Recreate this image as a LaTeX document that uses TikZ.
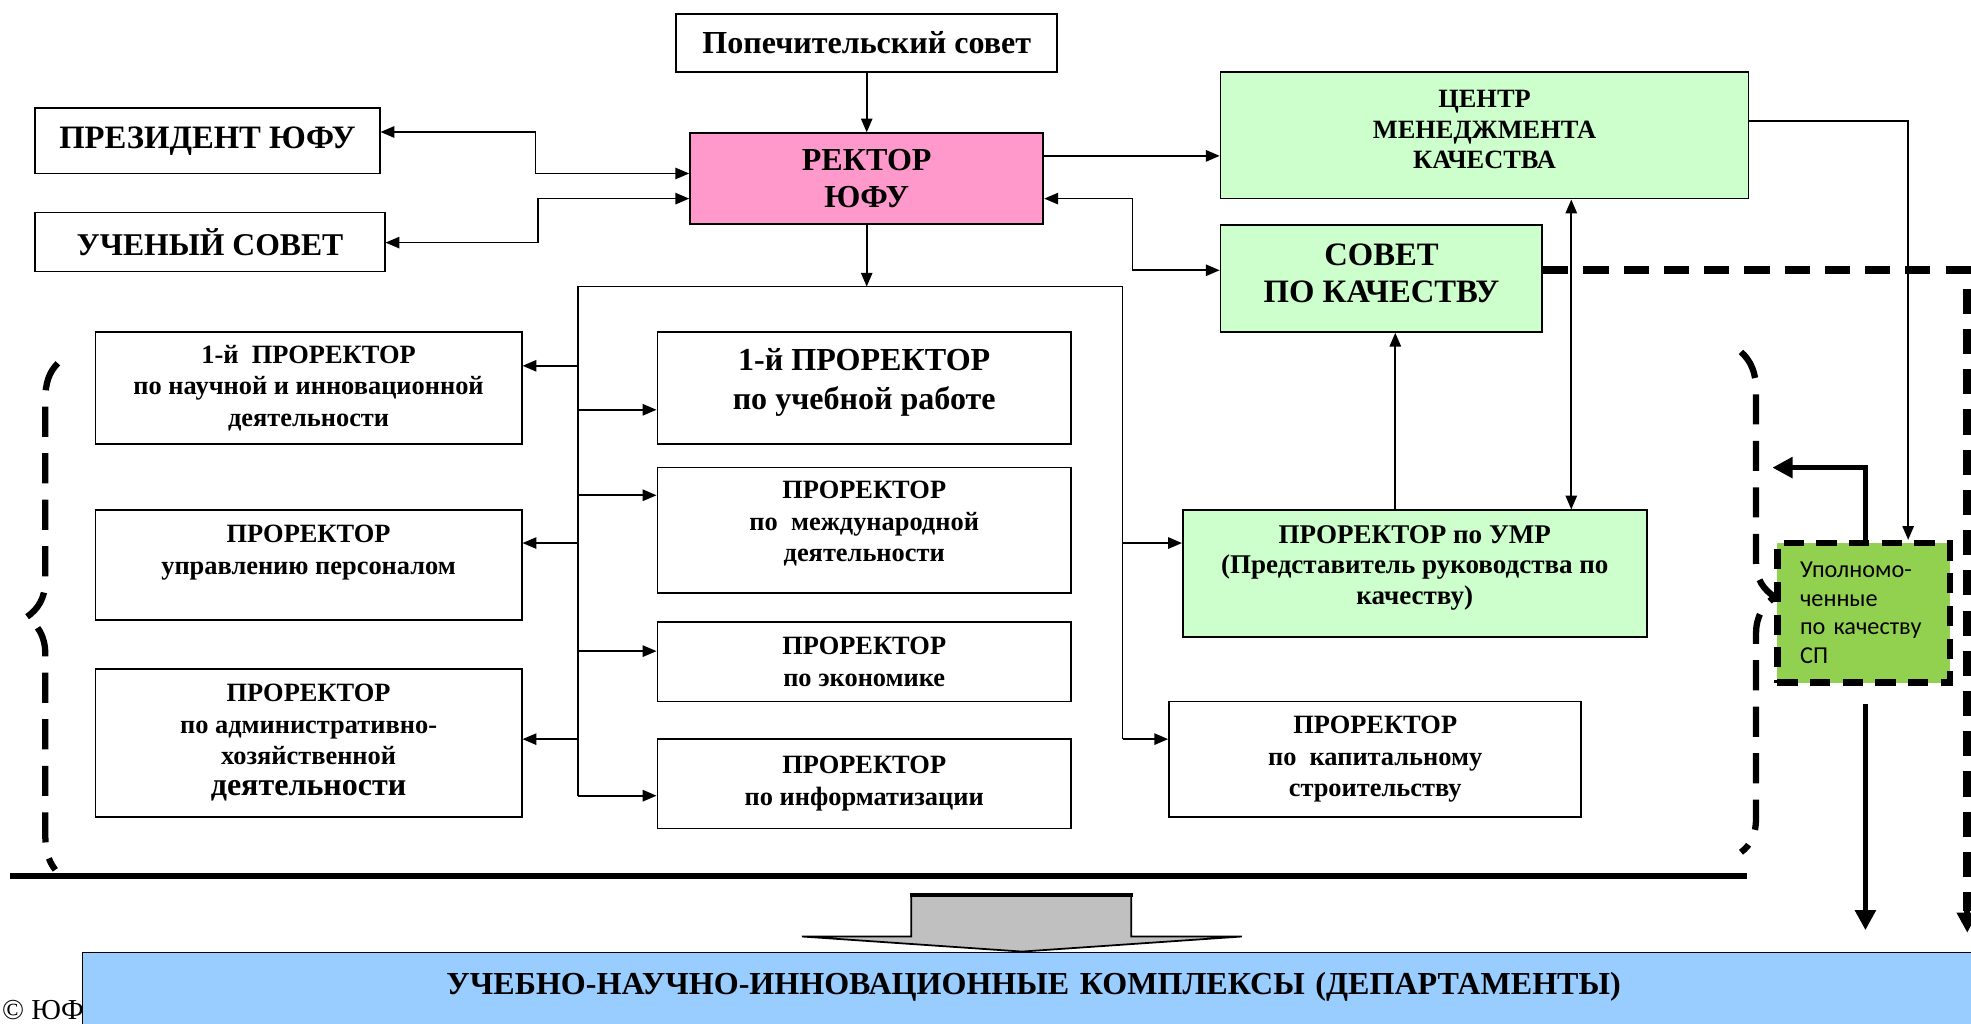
\documentclass[tikz,border=0pt]{standalone}
\usepackage{fontspec}
\setmainfont{Liberation Serif}
\newfontfamily\tbf{Liberation Serif Bold}
\newfontfamily\clb{Carlito}
\usetikzlibrary{arrows.meta}
\definecolor{pinkr}{HTML}{FF99CC}
\definecolor{lgreen}{HTML}{CCFFCC}
\definecolor{dgreen}{HTML}{92D050}
\definecolor{lblue}{HTML}{99CCFF}
\definecolor{lgray}{HTML}{C0C0C0}
\newcommand\fsz[2]{\fontsize{#1}{#2}\selectfont}
\tikzset{
  box/.style={draw, line width=1.4pt, rectangle, inner sep=0pt, align=center},
  arr/.style={line width=1.4pt, -{Triangle[length=11pt,width=9pt]}},
  arrb/.style={line width=1.4pt, {Triangle[length=11pt,width=9pt]}-{Triangle[length=11pt,width=9pt]}},
  bus/.style={line width=1.4pt},
  thickarr/.style={line width=4.5pt, -{Triangle[length=16pt,width=16pt]}},
  tdash/.style={line width=6pt, dash pattern=on 20pt off 12pt},
  brace/.style={line width=5pt, dash pattern=on 24pt off 13pt},
}
\begin{document}
\begin{tikzpicture}[x=1pt,y=-1pt]
\useasboundingbox (0,0) rectangle (1568,814);

% boxes
\node[box, minimum width=303pt, minimum height=46pt, font={\tbf\fsz{25.5}{28}}] (pop) at (689.5,34) {Попечительский совет};
\node[box, minimum width=274pt, minimum height=52pt, font={\tbf\fsz{26}{30}}] (pres) at (165,112) {ПРЕЗИДЕНТ ЮФУ};
\node[box, minimum width=278pt, minimum height=47pt, font={\tbf\fsz{25.2}{30}}] (uch) at (167,192.5) {УЧЕНЫЙ СОВЕТ};
\node[box, fill=pinkr, minimum width=281pt, minimum height=72pt, font={\tbf\fsz{25.5}{30}}, text depth=0pt] (rect) at (689.5,142) {РЕКТОР\\ЮФУ};
\node[box, fill=lgreen, minimum width=420pt, minimum height=101pt, font={\tbf\fsz{21}{24.5}}, text depth=9pt] (cmk) at (1181,107.5) {ЦЕНТР\\МЕНЕДЖМЕНТА\\КАЧЕСТВА};
\node[box, fill=lgreen, minimum width=256pt, minimum height=85pt, font={\tbf\fsz{26}{29}}, text depth=8pt] (spk) at (1099,221.5) {СОВЕТ\\ПО КАЧЕСТВУ};

\node[box, minimum width=339pt, minimum height=89pt, font={\tbf\fsz{21}{25}}] (l1) at (245.5,308.5) {1-й \ ПРОРЕКТОР\\по научной и инновационной\\деятельности};
\node[box, minimum width=339pt, minimum height=87pt, font={\tbf\fsz{21}{25}}, text depth=24pt] (l2) at (245.5,449.5) {ПРОРЕКТОР\\управлению персоналом};
\node[box, minimum width=339pt, minimum height=118pt, font={\tbf\fsz{21}{25}}] (l3) at (245.5,591) {ПРОРЕКТОР\\по административно-\\хозяйственной\\{\fsz{25.5}{27}деятельности}};

\node[box, minimum width=329pt, minimum height=89pt, font={\tbf\fsz{25.5}{31}}, text depth=14pt] (m1) at (687.5,308.5) {1-й ПРОРЕКТОР\\по учебной работе};
\node[box, minimum width=329pt, minimum height=100pt, font={\tbf\fsz{21}{25}}, text depth=14pt] (m2) at (687.5,422) {ПРОРЕКТОР\\по \ международной\\деятельности};
\node[box, minimum width=329pt, minimum height=63pt, font={\tbf\fsz{21}{25}}] (m3) at (687.5,526.5) {ПРОРЕКТОР\\по экономике};
\node[box, minimum width=329pt, minimum height=71pt, font={\tbf\fsz{21}{25}}] (m4) at (687.5,623.5) {ПРОРЕКТОР\\по информатизации};

\node[box, fill=lgreen, minimum width=369pt, minimum height=101pt, font={\tbf\fsz{21.5}{24.5}}, text depth=14pt] (umr) at (1125.5,456.5) {ПРОРЕКТОР по УМР\\(Представитель руководства по\\качеству)};
\node[box, minimum width=328pt, minimum height=92pt, font={\tbf\fsz{21}{25}}] (kap) at (1094,604) {ПРОРЕКТОР\\по \ капитальному\\строительству};

\node[draw, fill=dgreen, line width=5pt, dash pattern=on 16pt off 10pt, minimum width=137pt, minimum height=111pt, inner xsep=18pt, align=left, text width=101pt, font={\clb\fsz{19.3}{23}}] (upl) at (1482.5,487.5) {Уполномо-\\ченные\\по качеству\\СП};

% connectors
\draw[arr] (pop) -- (rect);
\draw[arrb] (pres.east |- 0,105) -- (426,105) -- (426,138) -- (rect.west |- 0,138);
\draw[arrb] (uch.east |- 0,193) -- (428,193) -- (428,158) -- (rect.west |- 0,158);
\draw[arr] (rect.east |- 0,124) -- (cmk.west |- 0,124);
\draw[arrb] (rect.east |- 0,158) -- (901,158) -- (901,215) -- (spk.west |- 0,215);

\coordinate (bustop) at (689.5,228);
\coordinate (busl) at (460,228);
\coordinate (busr) at (893,228);
\draw[arr] (rect.south) -- (bustop);
\draw[bus] (460,633) -- (busl) -- (busr) -- (893,588);
\draw[arr] (460,291) -- (l1.east |- 0,291);
\draw[arr] (460,432) -- (l2.east |- 0,432);
\draw[arr] (460,588) -- (l3.east |- 0,588);
\draw[arr] (460,326) -- (m1.west |- 0,326);
\draw[arr] (460,394) -- (m2.west |- 0,394);
\draw[arr] (460,518) -- (m3.west |- 0,518);
\draw[arr] (460,633) -- (m4.west |- 0,633);
\draw[arr] (893,432) -- (umr.west |- 0,432);
\draw[arr] (893,588) -- (kap.west |- 0,588);

\draw[arr] (umr.north -| 1110,0) -- (spk.south -| 1110,0);
\draw[arrb] (cmk.south -| 1250,0) -- (umr.north -| 1250,0);
\draw[arr] (cmk.east |- 0,96) -- (1518,96) -- (upl.north -| 1518,0);

% thick dashed line
\coordinate (dend) at (1565,742);
\draw[tdash] (spk.east |- 0,215) -- (1565,215) -- (1565,725);
\draw[line width=5pt, -{Triangle[length=16pt,width=16pt]}] (1565,724) -- (dend);

% thick arrows of upl
\coordinate (uplout) at (1410,372);
\coordinate (upldown) at (1484,740);
\draw[thickarr] (upl.north -| 1484,0) -- (1484,372) -- (uplout);
\draw[thickarr] (1484,560) -- (upldown);

% braces
\draw[brace] (46,289) .. controls (39,296) and (36,305) .. (36,318) -- (36,462) .. controls (36,476) and (30,485) .. (21,491) .. controls (30,497) and (36,506) .. (36,520) -- (36,662) .. controls (36,676) and (38,684) .. (44,692);
\draw[brace] (1385,280) .. controls (1393,287) and (1397,297) .. (1397,310) -- (1397,447) .. controls (1397,461) and (1403,469) .. (1412,475) .. controls (1403,481) and (1397,490) .. (1397,504) -- (1397,650) .. controls (1397,664) and (1393,672) .. (1385,678);

% thick base line
\draw[line width=5pt] (8,697) -- (1390,697);

% copyright text (partly hidden)
\node[anchor=base west, inner sep=0pt, font={\fsz{23}{26}}] (copy) at (1.5,811) {© ЮФУ};

% bottom blue box
\node[draw, fill=lblue, line width=1.4pt, anchor=north west, minimum width=1513pt, minimum height=80pt, inner sep=0pt, text depth=31pt, font={\tbf\fsz{25.5}{28}}, text width=1513pt, align=center] (unk) at (65,757) {УЧЕБНО-НАУЧНО-ИННОВАЦИОННЫЕ КОМПЛЕКСЫ (ДЕПАРТАМЕНТЫ)};

% gray block arrow
\draw[fill=lgray, line width=1.4pt] (725,712) -- (900,712) -- (900,745) -- (988,745) -- (813,757) -- (638,745) -- (725,745) -- cycle;
\draw[line width=3pt] (724,712) -- (901,712);
\end{tikzpicture}
\end{document}
